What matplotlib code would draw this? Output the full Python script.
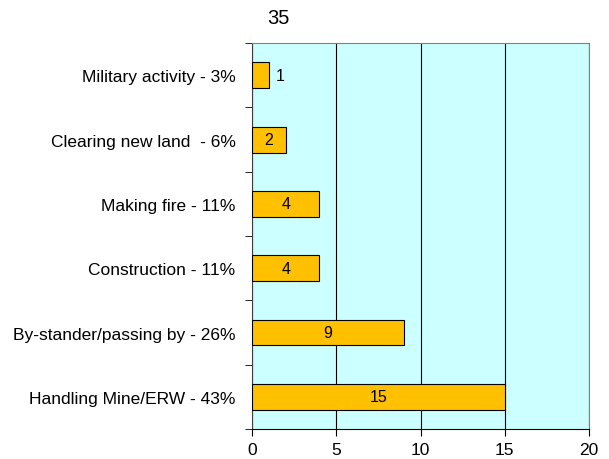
import matplotlib.pyplot as plt
import numpy as np

plt.rcParams['font.family'] = ['Liberation Sans', 'DejaVu Sans']

# categories from top to bottom
categories = ["Military activity - 3%", "Clearing new land  - 6%", "Making fire - 11%",
              "Construction - 11%", "By-stander/passing by - 26%", "Handling Mine/ERW - 43%"]
values = [1, 2, 4, 4, 9, 15]
title = "35"

fig = plt.figure(figsize=(6.09, 4.6), dpi=100)
ax = fig.add_axes([0.414, 0.065, 0.553, 0.839])
ax.set_facecolor("#CCFFFF")

n = len(categories)
ypos = np.arange(n)
ax.barh(ypos, values, height=0.4, color="#FFC000", edgecolor="black", linewidth=0.8, zorder=3)

for y, v in zip(ypos, values):
    if v < 2:
        ax.text(v + 0.4, y, str(v), ha="left", va="center", fontsize=11.5, zorder=4)
    else:
        ax.text(v / 2, y, str(v), ha="center", va="center", fontsize=11.5, zorder=4)

ax.set_xlim(0, 20)
ax.set_ylim(n - 0.5, -0.5)
ax.set_xticks([0, 5, 10, 15, 20])
ax.tick_params(axis="x", labelsize=12.5, direction="out", length=5, pad=4)
ax.xaxis.grid(True, color="black", linewidth=0.8, zorder=1)

ax.set_yticks(ypos)
ax.set_yticklabels(categories, fontsize=12.5)
ax.tick_params(axis="y", length=0, pad=12)
ax.set_yticks(np.arange(-0.5, n, 1), minor=True)
ax.tick_params(axis="y", which="minor", direction="out", length=5)

for s in ["top", "right"]:
    ax.spines[s].set_color("#808080")
ax.spines["left"].set_color("#404040")
ax.spines["bottom"].set_color("black")

fig.text(278 / 609, 1 - 18 / 460, title, ha="center", va="center", fontsize=14.5)

fig.savefig("out.png", dpi=100)
